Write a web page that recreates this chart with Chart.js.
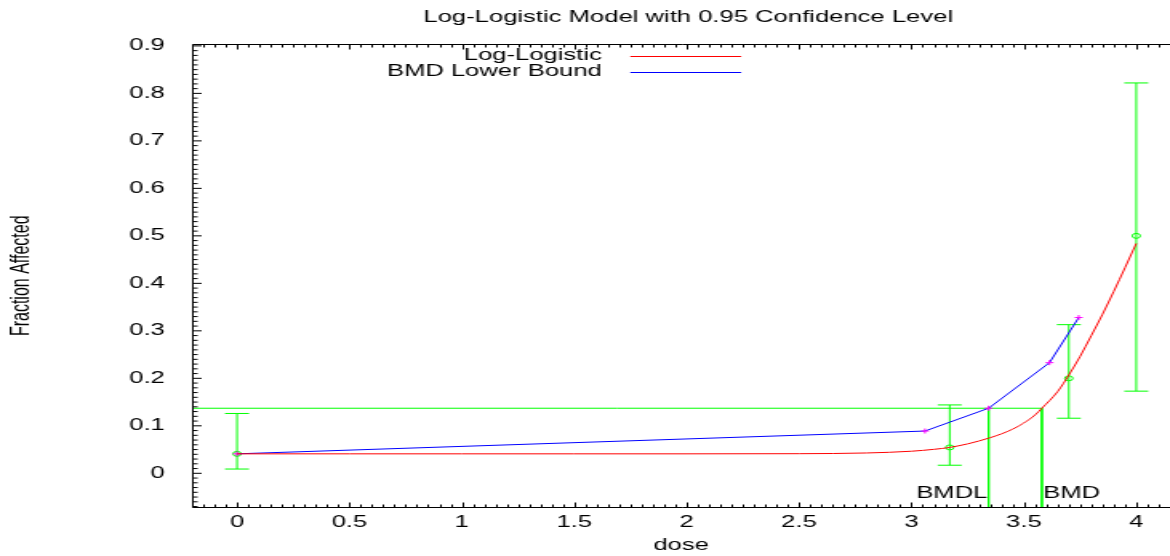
<!DOCTYPE html>
<html><head><meta charset="utf-8">
<script src="https://cdn.jsdelivr.net/npm/chart.js@4/dist/chart.umd.min.js"></script>
<style>
html,body{margin:0;padding:0;background:#fff;overflow:hidden;width:1170px;height:556px;}
#wrap{position:absolute;left:0;top:0;width:731px;height:556px;transform:scaleX(1.60055);transform-origin:0 0;}
canvas{display:block;}
</style></head><body>
<div id="wrap"><canvas id="c" width="731" height="556"></canvas></div>
<script>
// ---- text ----
const titleText = 'Log-Logistic Model with 0.95 Confidence Level';
const xTitle = 'dose';
const yTitle = 'Fraction Affected';
const legendLabels = ['Log-Logistic', 'BMD Lower Bound'];
// ---- ticks ----
const xTickValues = [0, 0.5, 1, 1.5, 2, 2.5, 3, 3.5, 4];
const xTickLabels = ['0', '0.5', '1', '1.5', '2', '2.5', '3', '3.5', '4'];
const yTickValues = [0, 0.1, 0.2, 0.3, 0.4, 0.5, 0.6, 0.7, 0.8, 0.9];
const yTickLabels = ['0', '0.1', '0.2', '0.3', '0.4', '0.5', '0.6', '0.7', '0.8', '0.9'];
const xMin = -0.2, xMax = 4.15, yMin = -0.072, yMax = 0.904;
// ---- observed data with confidence limits ----
const doses = [0, 3.17, 3.7, 4];
const meanResp = [0.041, 0.0545, 0.2, 0.5];
const lowerCI = [0.009, 0.017, 0.116, 0.173];
const upperCI = [0.126, 0.144, 0.313, 0.822];
// ---- fitted log-logistic curve ----
const fitDose = [0, 0.5, 1, 1.5, 2, 2.5, 2.8, 3.0, 3.1, 3.17, 3.25, 3.3, 3.35, 3.4, 3.45, 3.5, 3.55, 3.58, 3.65, 3.7, 3.75, 3.8, 3.85, 3.9, 3.95, 4.0];
const fitResp = [0.041, 0.041, 0.041, 0.041, 0.041, 0.0413, 0.0428, 0.0465, 0.0505, 0.0545, 0.062, 0.068, 0.075, 0.083, 0.093, 0.106, 0.123, 0.137, 0.172, 0.207, 0.246, 0.29, 0.335, 0.383, 0.433, 0.484];
// ---- BMD lower bound curve ----
const lbDose = [0, 3.06, 3.343, 3.614, 3.744];
const lbResp = [0.041, 0.089, 0.137, 0.233, 0.328];
// ---- BMD markers ----
const bmd = 3.58, bmdl = 3.343, bmrLevel = 0.137;

const FONT = '"Liberation Sans", Arial, Helvetica, sans-serif';
Chart.defaults.font.family = FONT;
Chart.defaults.font.size = 16;
Chart.defaults.color = '#000';

const GREEN = '#00ff00';
const pts = (xs, ys) => xs.map((v, i) => ({x: v, y: ys[i]}));

const datasets = [
  {label: legendLabels[0], data: pts(fitDose, fitResp), showLine: true, borderColor: '#ff0000', borderWidth: 1,
   pointRadius: 0, cubicInterpolationMode: 'monotone', fill: false},
  {label: legendLabels[1], data: pts(lbDose, lbResp), showLine: true, borderColor: '#0000ff', borderWidth: 1,
   pointStyle: 'cross', pointRadius: 2.5, pointBorderColor: '#ff00ff', pointBorderWidth: 1, fill: false},
  {label: 'mean', data: pts(doses, meanResp), showLine: false, pointStyle: 'circle', pointRadius: 2.5,
   pointBorderColor: GREEN, pointBackgroundColor: 'rgba(0,0,0,0)', pointBorderWidth: 1},
];
doses.forEach((d, i) => {
  datasets.push({label: 'ci' + i, data: [{x: d, y: lowerCI[i]}, {x: d, y: upperCI[i]}], showLine: true,
    borderColor: GREEN, borderWidth: 1, pointStyle: 'line', pointRadius: 7.5, pointBorderColor: GREEN, pointBorderWidth: 1});
});
datasets.push({label: 'bmdLine', data: [{x: xMin, y: bmrLevel}, {x: bmd, y: bmrLevel}, {x: bmd, y: yMin}], showLine: true,
  borderColor: GREEN, borderWidth: 1, pointRadius: 0});
datasets.push({label: 'bmdlLine', data: [{x: bmdl, y: bmrLevel}, {x: bmdl, y: yMin}], showLine: true,
  borderColor: GREEN, borderWidth: 1, pointRadius: 0});

const framePlugin = {
  id: 'frame',
  afterDatasetsDraw(chart) {
    const {ctx, chartArea: a, scales: {x, y}} = chart;
    ctx.save();
    ctx.strokeStyle = '#000';
    ctx.lineWidth = 1;
    const L = Math.round(a.left) + 0.5, T = Math.round(a.top) + 0.5, B = a.bottom, R = a.right + 2;
    ctx.beginPath();
    ctx.moveTo(R, T); ctx.lineTo(L, T); ctx.lineTo(L, B); ctx.lineTo(R, B);
    for (let k = Math.ceil(xMin / 0.05); k <= Math.floor(xMax / 0.05); k++) {
      const px = Math.round(x.getPixelForValue(k * 0.05)) + 0.5;
      const len = (k % 10 === 0) ? 5 : 3;
      ctx.moveTo(px, B); ctx.lineTo(px, B - len);
      ctx.moveTo(px, T); ctx.lineTo(px, T + len);
    }
    for (let k = Math.ceil(yMin / 0.01); k <= Math.floor(yMax / 0.01); k++) {
      const py = y.getPixelForValue(k * 0.01);
      const len = (k % 10 === 0) ? 5.5 : 3;
      ctx.moveTo(L, py); ctx.lineTo(L + len, py);
    }
    ctx.stroke();
    // BMD / BMDL labels
    ctx.fillStyle = '#000';
    ctx.font = '16px ' + FONT;
    ctx.textBaseline = 'middle';
    ctx.textAlign = 'right';
    ctx.fillText('BMDL', x.getPixelForValue(bmdl) - 0.8, 494);
    ctx.textAlign = 'left';
    ctx.fillText('BMD', x.getPixelForValue(bmd) + 0.8, 494);
    ctx.restore();
  },
  afterDraw(chart) {
    const {ctx} = chart;
    ctx.save();
    ctx.font = '16px ' + FONT;
    ctx.fillStyle = '#000';
    ctx.textBaseline = 'middle';
    // chart title
    ctx.textAlign = 'center';
    ctx.fillText(titleText, 430, 17.5);
    // legend
    ctx.textAlign = 'right';
    const rows = [{t: legendLabels[0], c: '#ff0000', y: 56}, {t: legendLabels[1], c: '#0000ff', y: 72}];
    rows.forEach(r => {
      ctx.fillText(r.t, 376, r.y);
      ctx.strokeStyle = r.c; ctx.lineWidth = 1;
      ctx.beginPath(); ctx.moveTo(393.8, Math.round(r.y) + 0.5); ctx.lineTo(463.1, Math.round(r.y) + 0.5); ctx.stroke();
    });
    ctx.restore();
  }
};

new Chart(document.getElementById('c'), {
  type: 'scatter',
  data: {datasets},
  options: {
    responsive: false,
    devicePixelRatio: 1,
    animation: false,
    layout: {padding: {top: 44, left: 0, right: 0, bottom: 0}, autoPadding: false},
    plugins: {
      legend: {display: false},
      tooltip: {enabled: false},
      title: {display: false}
    },
    scales: {
      x: {
        type: 'linear', min: xMin, max: xMax,
        grid: {display: false, drawTicks: false}, border: {display: false},
        afterBuildTicks: s => { s.ticks = xTickValues.map(v => ({value: v})); },
        ticks: {padding: 5.5, maxRotation: 0, callback: (v) => { const i = xTickValues.indexOf(v); return i >= 0 ? xTickLabels[i] : ''; }},
        title: {display: true, text: xTitle, padding: {top: 0, bottom: 1}},
        afterFit: s => { s.height = 48.5; s.paddingLeft = 0; s.paddingRight = 0; }
      },
      y: {
        type: 'linear', min: yMin, max: yMax,
        grid: {display: false, drawTicks: false}, border: {display: false},
        afterBuildTicks: s => { s.ticks = yTickValues.map(v => ({value: v})); },
        ticks: {padding: 17, callback: (v) => { const i = yTickValues.findIndex(t => Math.abs(t - v) < 1e-9); return i >= 0 ? yTickLabels[i] : ''; }},
        title: {display: true, text: yTitle, padding: {top: 4.2, bottom: 0}},
        afterFit: s => { s.width = 120; s.paddingTop = 0; s.paddingBottom = 0; }
      }
    }
  },
  plugins: [framePlugin]
});
</script>
</body></html>
